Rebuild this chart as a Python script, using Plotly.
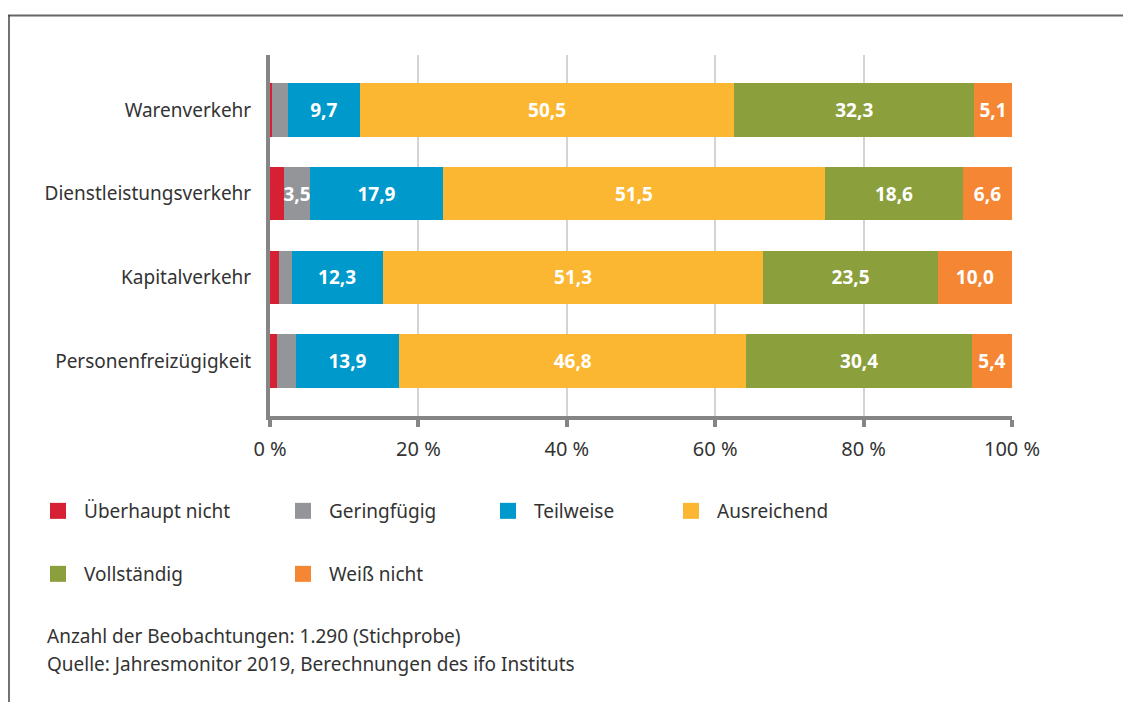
import plotly.graph_objects as go

categories = ["Warenverkehr", "Dienstleistungsverkehr", "Kapitalverkehr", "Personenfreizügigkeit"]
series_names = ["Überhaupt nicht", "Geringfügig", "Teilweise", "Ausreichend", "Vollständig", "Weiß nicht"]
ueberhaupt_nicht = [0.3, 1.9, 1.2, 1.0]
geringfuegig = [2.1, 3.5, 1.7, 2.5]
teilweise = [9.7, 17.9, 12.3, 13.9]
ausreichend = [50.5, 51.5, 51.3, 46.8]
vollstaendig = [32.3, 18.6, 23.5, 30.4]
weiss_nicht = [5.1, 6.6, 10.0, 5.4]
colors = ["#d52133", "#939598", "#0099cc", "#fbb731", "#8ba03c", "#f58634"]
tick_vals = [0, 20, 40, 60, 80, 100]
tick_text = ["0 %", "20 %", "40 %", "60 %", "80 %", "100 %"]
footnotes = ["Anzahl der Beobachtungen: 1.290 (Stichprobe)",
             "Quelle: Jahresmonitor 2019, Berechnungen des ifo Instituts"]

series_values = [ueberhaupt_nicht, geringfuegig, teilweise, ausreichend, vollstaendig, weiss_nicht]

FONT = "Noto Sans"
OFF = 8  # page offset of the figure (body margin)
W, H = 1131 - OFF, 702 - OFF
L, T = 270 - OFF, 55 - OFF
R = W - (1012 - OFF)
B = H - (416 - OFF)
PW, PH = W - L - R, H - T - B

def px_x(p):
    # p given in page pixels
    return (p - OFF - L) / PW

def px_y(p):
    return (H - B - (p - OFF)) / PH

fig = go.Figure()
legend_pos = [(47, 511), (292, 511), (497, 511), (680, 511), (47, 574), (292, 574)]
for i, (name, vals, col) in enumerate(zip(series_names, series_values, colors)):
    labels = [f"{v:.1f}".replace(".", ",") if v >= 3.5 else "" for v in vals]
    lg = "legend" if i == 0 else f"legend{i+1}"
    fig.add_trace(go.Bar(
        name=name, y=categories, x=vals, orientation="h",
        marker=dict(color=col, line=dict(width=0)),
        text=labels, textposition="inside", insidetextanchor="middle",
        textangle=0, textfont=dict(family=FONT, size=19, color="white", weight="bold"),
        cliponaxis=False, width=0.64, showlegend=False, legendgroup=name,
        hoverinfo="x+name",
    ))
    fig.add_trace(go.Scatter(
        name=name, x=[None], y=[None], mode="markers",
        marker=dict(symbol="square", size=16, color=col, line=dict(width=0)),
        legendgroup=name, showlegend=True, legend=lg,
    ))

layout_legends = {}
for i, (lx, ly) in enumerate(legend_pos):
    key = "legend" if i == 0 else f"legend{i+1}"
    layout_legends[key] = dict(
        x=px_x(lx - 15), y=px_y(ly), xanchor="left", yanchor="middle",
        font=dict(family=FONT, size=19, color="#333333"),
        bgcolor="rgba(0,0,0,0)", borderwidth=0, itemsizing="trace",
        itemwidth=42, orientation="h",
    )

annotations = []
for j, txt in enumerate(footnotes):
    annotations.append(dict(
        text=txt, xref="paper", yref="paper", x=px_x(45), y=px_y(636 + j * 28),
        xanchor="left", yanchor="middle", showarrow=False,
        font=dict(family=FONT, size=19, color="#333333"),
    ))

shapes = [
    dict(type="line", xref="paper", yref="paper", x0=px_x(8), x1=px_x(1140), y0=px_y(15.5), y1=px_y(15.5),
         line=dict(color="#666666", width=2)),
    dict(type="line", xref="paper", yref="paper", x0=px_x(9), x1=px_x(9), y0=px_y(15), y1=px_y(710),
         line=dict(color="#444444", width=1.5)),
]

fig.update_layout(
    width=W, height=H, margin=dict(l=L, r=R, t=T, b=B, pad=0),
    barmode="stack", plot_bgcolor="white", paper_bgcolor="white",
    separators=", ", bargap=0.36,
    uniformtext=dict(minsize=19, mode="show"),
    font=dict(family=FONT, color="#333333"),
    xaxis=dict(range=[0, 100], tickvals=tick_vals, ticktext=tick_text,
               showgrid=True, gridcolor="#d4d4d4", gridwidth=2,
               showline=True, linecolor="#858585", linewidth=4,
               ticks="outside", ticklen=7, tickwidth=4, tickcolor="#858585",
               ticklabelstandoff=5,
               tickfont=dict(family=FONT, size=20, color="#333333"),
               zeroline=False, fixedrange=True),
    yaxis=dict(categoryorder="array", categoryarray=categories,
               range=[3.66, -0.66], showline=True, linecolor="#858585", linewidth=4,
               ticks="", ticklabelstandoff=11, showgrid=False, zeroline=False,
               tickfont=dict(family=FONT, size=19, color="#333333"), fixedrange=True),
    annotations=annotations, shapes=shapes,
    **layout_legends,
)

fig.write_html("out.html")
